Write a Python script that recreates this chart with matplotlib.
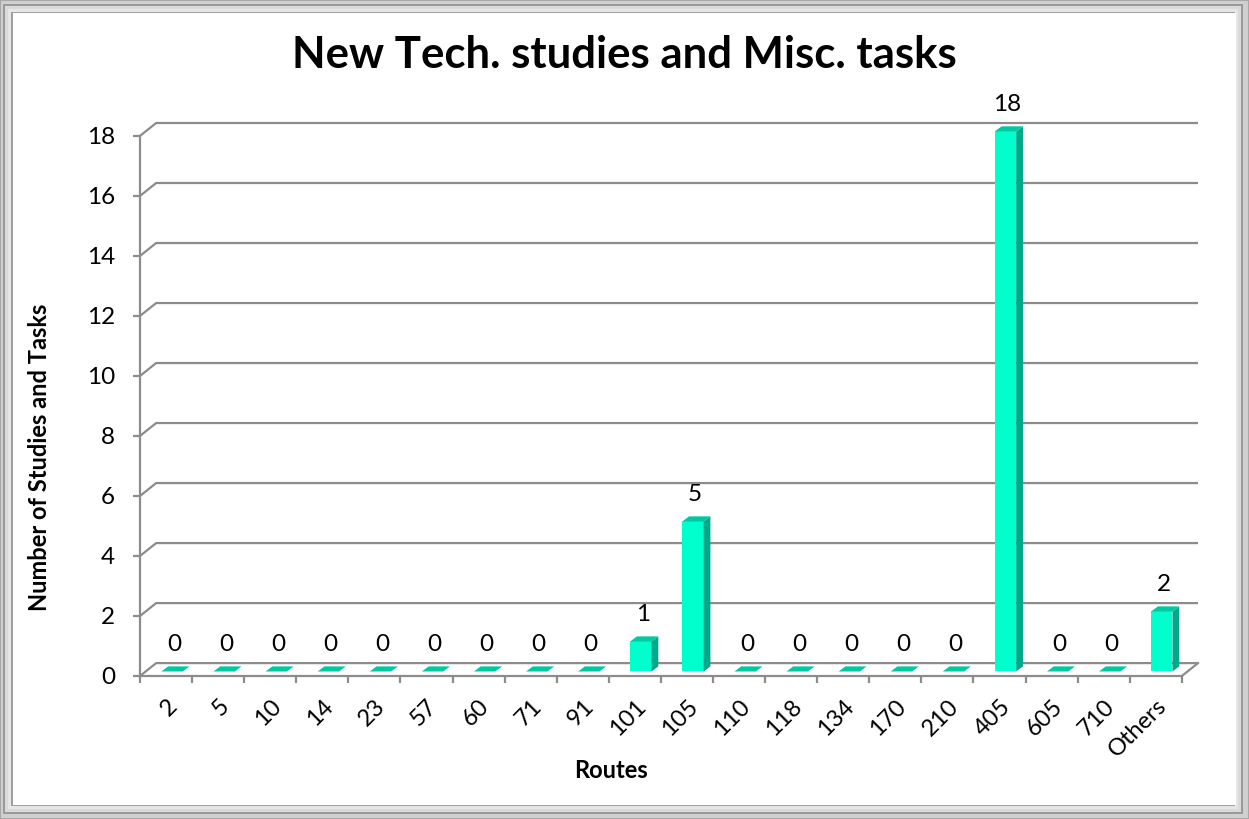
import numpy as np
import matplotlib.pyplot as plt
from matplotlib.patches import Rectangle

plt.rcParams['font.family'] = ['Lato', 'DejaVu Sans']

routes = ['2', '5', '10', '14', '23', '57', '60', '71', '91', '101', '105',
          '110', '118', '134', '170', '210', '405', '605', '710', 'Others']
counts = [0, 0, 0, 0, 0, 0, 0, 0, 0, 1, 5, 0, 0, 0, 0, 0, 18, 0, 0, 2]
yticks = [0, 2, 4, 6, 8, 10, 12, 14, 16, 18]

# fake 3d depth (data units)
DX, DY = 0.31, 0.43
BW = 0.41          # bar width
BX, BY = 0.41, 0.15  # bar front-face offset
BDX, BDY = 0.13, 0.17  # bar depth

front_c = '#00FFCC'
side_c = '#00A98A'
top_c = '#00C9A2'
grid_c = '#8C8C8C'

W, H = 1249, 819
fig = plt.figure(figsize=(W / 100, H / 100), dpi=100)

# frame around the chart
fig.patches.append(Rectangle((0, 0), 1, 1, transform=fig.transFigure,
                             facecolor='#D0D0D0', edgecolor='#A8A8A8', lw=1.5, zorder=-5))
for inset, col in [(3, '#9A9A9A'), (5, '#DADADA'), (8, '#E6E6E6'), (11, '#A0A0A0')]:
    fig.patches.append(Rectangle((inset / W, (inset + 2) / H), 1 - 2 * inset / W - 3 / W,
                                 1 - 2 * inset / H - 3 / H, transform=fig.transFigure,
                                 facecolor=col, edgecolor='none', zorder=-4))
fig.patches.append(Rectangle((13 / W, 14 / H), (1236 - 13) / W, (806 - 14) / H,
                             transform=fig.transFigure, facecolor='white', edgecolor='none',
                             zorder=-3))

x0, x1 = 140, 1198
ybot, ytop = 676, 123
ax = fig.add_axes([x0 / W, 1 - ybot / H, (x1 - x0) / W, (ybot - ytop) / H])
ax.set_xlim(0, len(routes) + DX)
ax.set_ylim(0, 18 + DY)
ax.patch.set_alpha(0)

# back wall gridlines and floor
for v in yticks:
    ax.plot([0, DX, len(routes) + DX], [v, v + DY, v + DY], color=grid_c, lw=1.6,
            clip_on=False, zorder=1, solid_capstyle='butt')
ax.plot([0, len(routes)], [0, 0], color=grid_c, lw=1.6, clip_on=False, zorder=1)
ax.plot([len(routes), len(routes) + DX], [0, DY], color=grid_c, lw=1.6, clip_on=False, zorder=1)

# bars
for i, h in enumerate(counts):
    xl = i + BX
    xr = xl + BW
    yb = BY
    yt = h + BY
    if h > 0:
        ax.fill([xl, xr, xr, xl], [yb, yb, yt, yt], color=front_c, zorder=3, lw=0)
        ax.fill([xr, xr + BDX, xr + BDX, xr], [yb, yb + BDY, yt + BDY, yt],
                color=side_c, zorder=3, lw=0)
    ax.fill([xl, xr, xr + BDX, xl + BDX], [yt, yt, yt + BDY, yt + BDY],
            color=top_c, zorder=3, lw=0)
    ax.text(i + 0.65, h + 1.05, str(h), ha='center', va='center', fontsize=17.5,
            color='black', zorder=4)

for s in ['top', 'right']:
    ax.spines[s].set_visible(False)
ax.spines['bottom'].set_visible(False)
ax.spines['left'].set_color(grid_c)
ax.spines['left'].set_linewidth(1.6)
ax.spines['left'].set_bounds(0, 18)

ax.set_yticks(yticks)
ax.set_yticklabels([str(v) for v in yticks], fontsize=17.5)
ax.tick_params(axis='y', length=5, width=1.6, color=grid_c, pad=13)

ax.set_xticks(np.arange(len(routes)) + 0.5)
ax.set_xticklabels(routes, fontsize=17, rotation=45, ha='right', va='top',
                   rotation_mode='anchor')
ax.set_xticks(np.arange(len(routes) + 1), minor=True)
ax.tick_params(axis='x', which='major', length=0, pad=14)
ax.tick_params(axis='x', which='minor', length=5, width=1.6, color=grid_c)

fig.text(0.4996, 0.933, 'New Tech. studies and Misc. tasks', ha='center', va='center',
         fontsize=31.5, fontweight='bold')
fig.text(40 / W, 1 - 457 / H, 'Number of Studies and Tasks', rotation=90, ha='center',
         va='center', fontsize=17, fontweight='bold')
fig.text(611 / W, 1 - 770 / H, 'Routes', ha='center', va='center', fontsize=17,
         fontweight='bold')

fig.savefig('out.png', dpi=100)
